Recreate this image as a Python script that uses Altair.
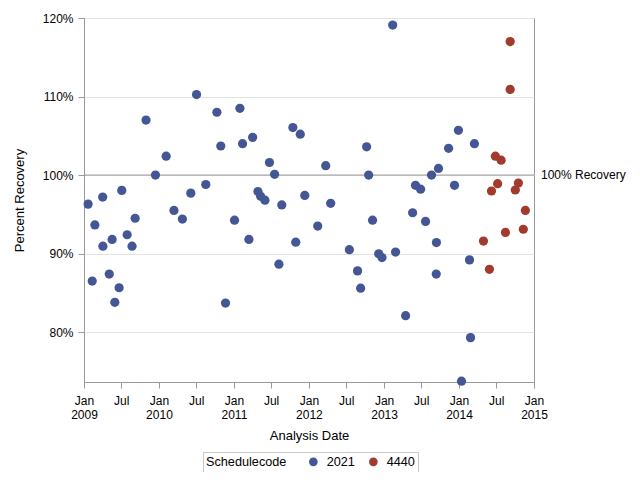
import altair as alt
import pandas as pd

blue_dates = [
    "2009-01-21", "2009-02-10", "2009-02-23", "2009-04-02", "2009-04-03", "2009-05-04",
    "2009-05-18", "2009-05-31", "2009-06-21", "2009-07-04", "2009-07-30", "2009-08-23",
    "2009-09-07", "2009-10-30", "2009-12-15", "2010-02-05", "2010-03-15", "2010-04-25",
    "2010-06-05", "2010-07-03", "2010-08-17", "2010-10-10", "2010-10-29", "2010-11-21",
    "2011-01-04", "2011-01-30", "2011-02-12", "2011-03-15", "2011-04-02", "2011-04-28",
    "2011-05-11", "2011-06-01", "2011-06-23", "2011-07-18", "2011-08-08", "2011-08-22",
    "2011-10-15", "2011-10-29", "2011-11-20", "2011-12-12", "2012-02-13", "2012-03-23",
    "2012-04-16", "2012-07-16", "2012-08-25", "2012-09-09", "2012-10-08", "2012-10-18",
    "2012-11-06", "2012-12-06", "2012-12-22", "2013-02-12", "2013-02-26", "2013-04-16",
    "2013-05-20", "2013-06-03", "2013-06-28", "2013-07-22", "2013-08-20", "2013-09-13",
    "2013-09-12", "2013-09-23", "2013-11-11", "2013-12-10", "2013-12-29", "2014-01-13",
    "2014-02-21", "2014-02-26", "2014-03-17",
]
blue_values = [
    96.3, 86.5, 93.65, 97.2, 90.95, 87.4,
    91.8, 83.8, 85.65, 98.05, 92.4, 90.95,
    94.5, 107.0, 100.0, 102.4, 95.5, 94.4,
    97.7, 110.25, 98.8, 108.0, 103.7, 83.7,
    94.25, 108.5, 104.0, 91.8, 104.8, 97.9,
    97.3, 96.8, 101.6, 100.1, 88.65, 96.2,
    106.05, 91.45, 105.2, 97.4, 93.5, 101.2,
    96.4, 90.5, 87.8, 85.6, 103.6, 100.0,
    94.25, 89.97, 89.5, 119.1, 90.2, 82.1,
    95.2, 98.7, 98.2, 94.1, 100.0, 91.4,
    87.4, 100.85, 103.4, 98.7, 105.7, 73.75,
    89.2, 79.3, 104.0,
]
red_dates = [
    "2014-04-30", "2014-05-29", "2014-06-08", "2014-06-27", "2014-07-08", "2014-07-25",
    "2014-08-15", "2014-09-07", "2014-09-07", "2014-10-02", "2014-10-17", "2014-11-10",
    "2014-11-20",
]
red_values = [
    91.6, 88.0, 97.97, 102.4, 98.9, 101.9,
    92.7, 117.0, 110.9, 98.1, 98.98, 93.1,
    95.5,
]
codes = ["2021", "4440"]
colors = ["#445694", "#A23A2E"]
y_ticks = [80, 90, 100, 110, 120]
ref_value = 100
ref_label = "100% Recovery"

df = pd.DataFrame({
    "date": [d + "T00:00:00" for d in blue_dates + red_dates],
    "value": blue_values + red_values,
    "Schedulecode": [codes[0]] * len(blue_dates) + [codes[1]] * len(red_dates),
})
ref_df = pd.DataFrame({"ref": [ref_value], "label": [ref_label]})

x_ticks = []
for yr in range(2009, 2016):
    x_ticks.append(alt.DateTime(year=yr, month=1, date=1))
    if yr < 2015:
        x_ticks.append(alt.DateTime(year=yr, month=7, date=1))

W, H = 450, 364
FONT = "Liberation Sans"
GRAY = "#999999"

points = alt.Chart(df).mark_circle(size=85, opacity=1).encode(
    x=alt.X("date:T", title="Analysis Date",
            scale=alt.Scale(domain=[alt.DateTime(year=2009, month=1, date=1),
                                    alt.DateTime(year=2015, month=1, date=1)], nice=False),
            axis=alt.Axis(values=x_ticks, grid=False, tickSize=6, labelPadding=7,
                          labelExpr="month(datum.value) == 0 ? ['Jan', timeFormat(datum.value, '%Y')] : 'Jul'",
                          labelFlush=False, labelOverlap=False, labelLineHeight=14,
                          titlePadding=9)),
    y=alt.Y("value:Q", title="Percent Recovery",
            scale=alt.Scale(domain=[73.65, 120], nice=False, zero=False),
            axis=alt.Axis(values=y_ticks, labelExpr="datum.value + '%'", grid=True,
                          gridColor="#e3e3e3", tickSize=6, labelPadding=5, titlePadding=16)),
    color=alt.Color("Schedulecode:N", scale=alt.Scale(domain=codes, range=colors),
                    legend=alt.Legend(orient="none", legendX=119, legendY=434,
                                      direction="horizontal", titleOrient="left",
                                      strokeColor="#c8c8c8", padding=3,
                                      titlePadding=20, labelOffset=7, columnPadding=12,
                                      symbolType="circle", symbolSize=75,
                                      symbolStrokeWidth=0, titleFontWeight="normal",
                                      titleFontSize=12.7, labelFontSize=12.7,
                                      titleColor="#000000", labelColor="#000000",
                                      titleFont=FONT, labelFont=FONT)),
)

rule = alt.Chart(ref_df).mark_rule(color=GRAY, strokeWidth=1).encode(y=alt.Y("ref:Q"))

ref_text = alt.Chart(ref_df).mark_text(align="left", baseline="middle", fontSize=12,
                                       font=FONT, color="#000000").encode(
    x=alt.value(W + 7), y=alt.Y("ref:Q"), text="label:N")

chart = alt.layer(rule, points, ref_text).properties(
    width=W, height=H,
    autosize=alt.AutoSizeParams(type="none"),
    padding={"left": 76, "top": 10, "right": 98, "bottom": 90},
).configure_view(stroke=GRAY, strokeWidth=1).configure_axis(
    domainColor=GRAY, tickColor=GRAY, labelFont=FONT, titleFont=FONT,
    labelFontSize=12, titleFontSize=13, labelColor="#000000", titleColor="#000000",
    titleFontWeight="normal",
)

chart.save("out.html", embed_options={"renderer": "svg", "actions": False})
